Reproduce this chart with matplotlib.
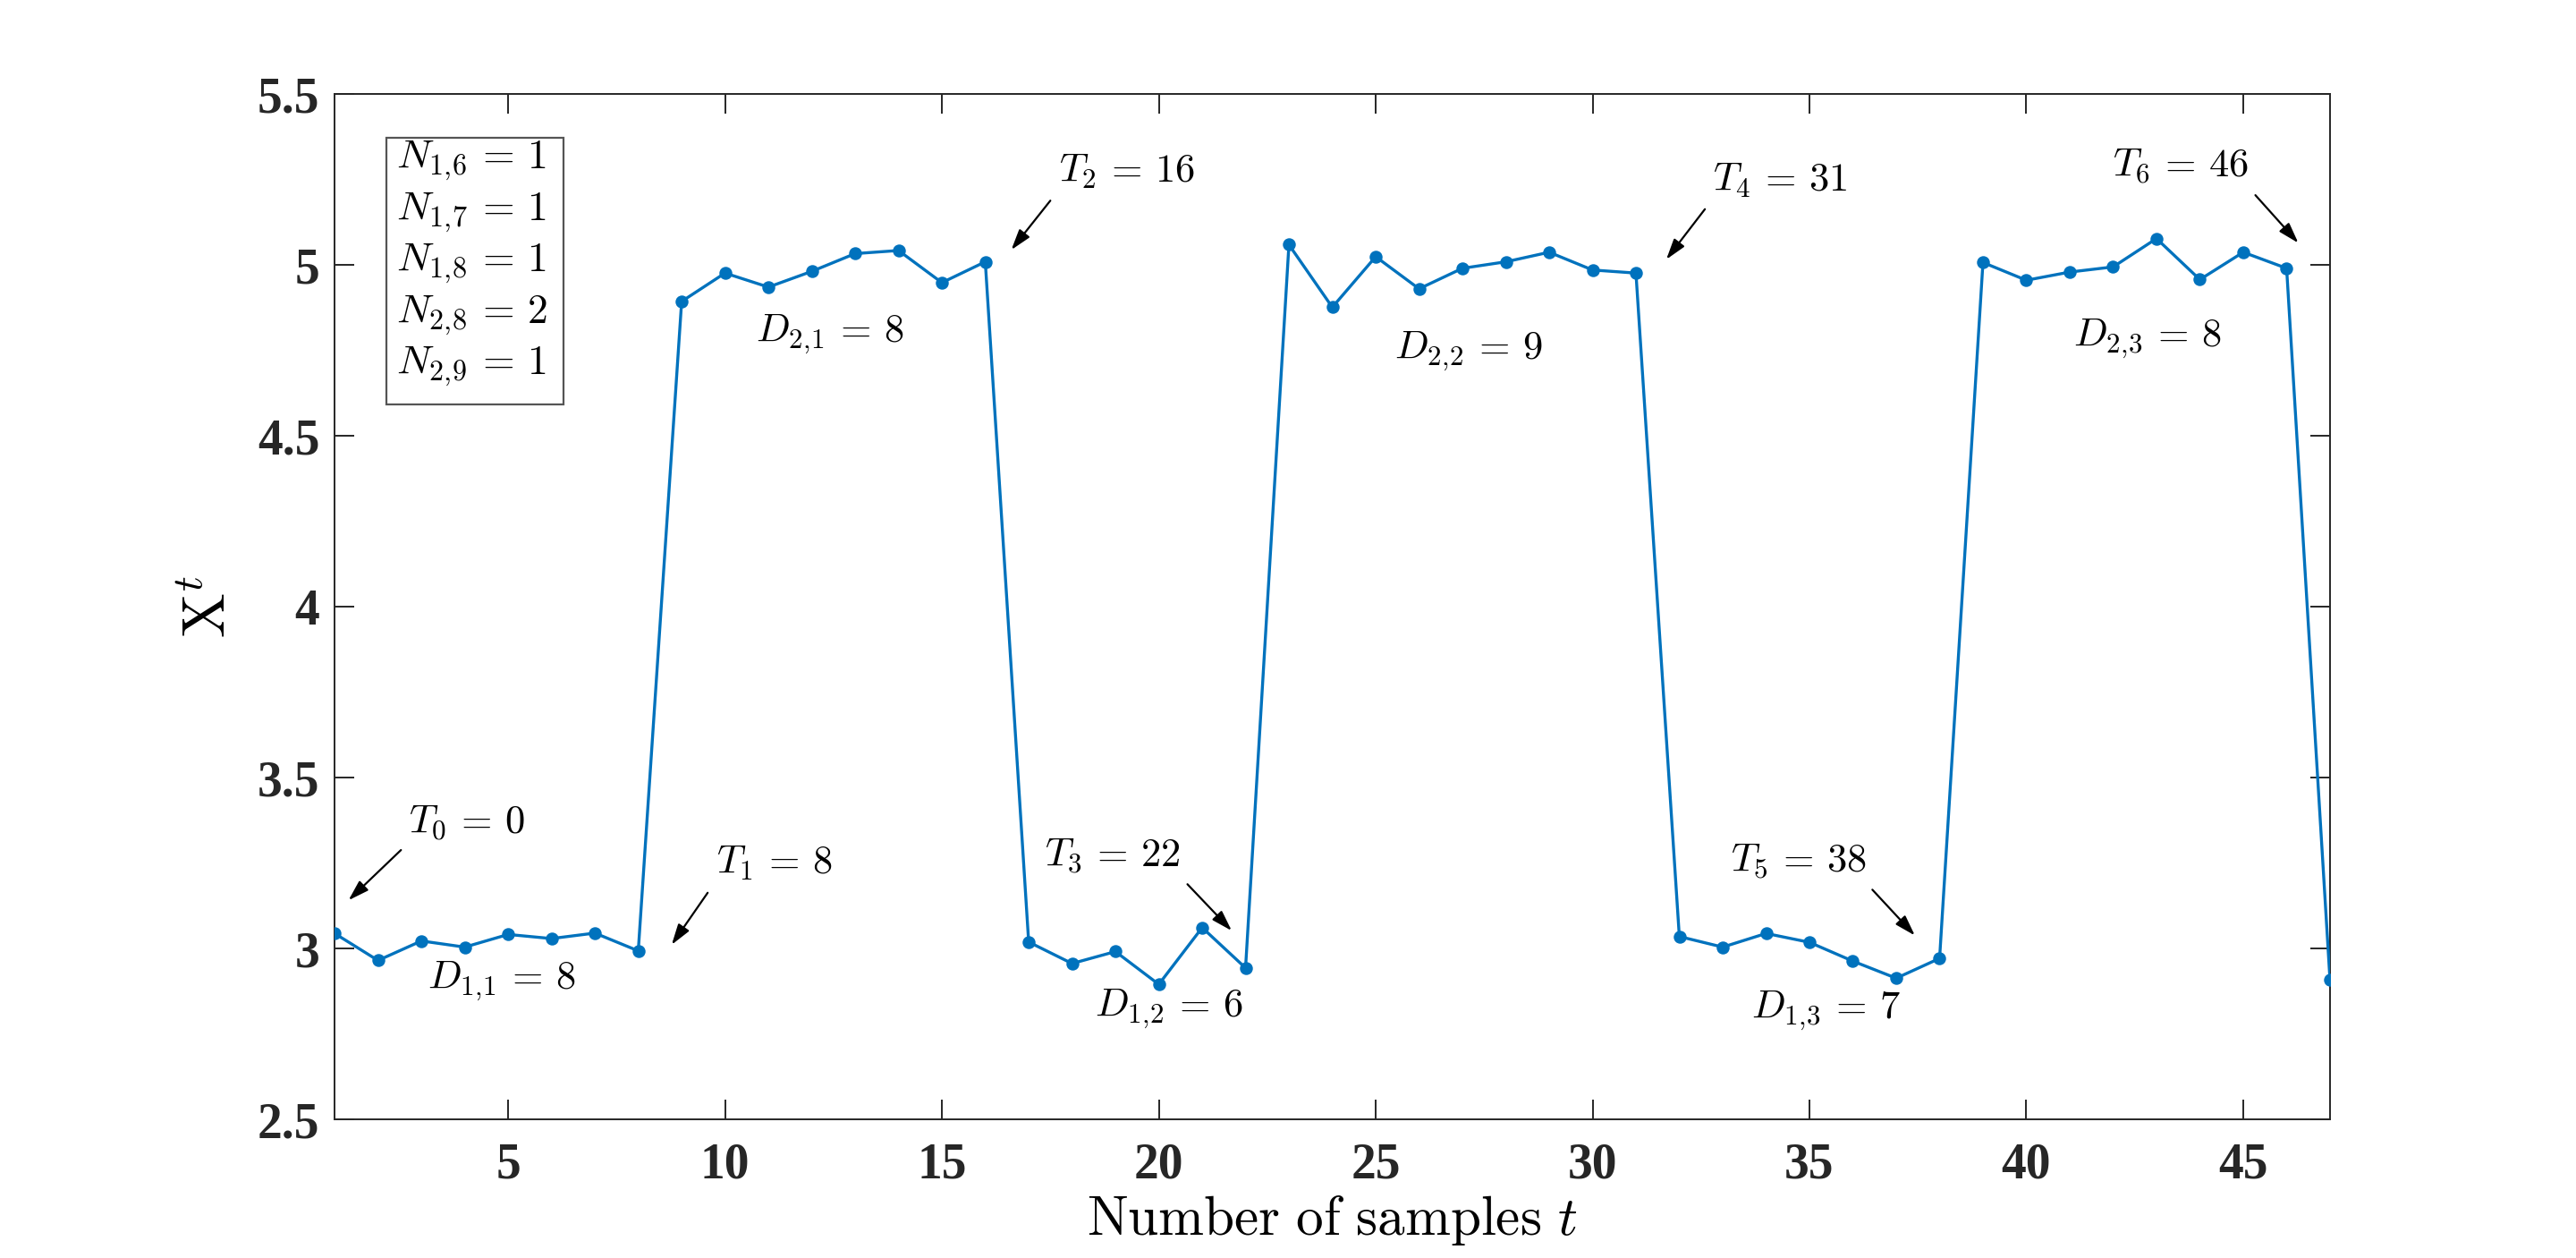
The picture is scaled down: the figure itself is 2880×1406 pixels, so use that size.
import matplotlib
matplotlib.use("Agg")
import matplotlib.pyplot as plt
from matplotlib.patches import Rectangle
import numpy as np

# ---- data ----
t = list(range(1, 48))
X = [3.044, 2.965, 3.022, 3.004, 3.041, 3.029, 3.045, 2.993,
     4.893, 4.976, 4.935, 4.981, 5.033, 5.042, 4.948, 5.009,
     3.019, 2.956, 2.991, 2.895, 3.061, 2.943,
     5.059, 4.876, 5.024, 4.930, 4.990, 5.009, 5.037, 4.985, 4.976,
     3.035, 3.004, 3.044, 3.018, 2.963, 2.913, 2.971,
     5.007, 4.955, 4.979, 4.994, 5.077, 4.957, 5.037, 4.990,
     2.908]

xticks = [5, 10, 15, 20, 25, 30, 35, 40, 45]
yticks = [2.5, 3.0, 3.5, 4.0, 4.5, 5.0, 5.5]
ytick_labels = ["2.5", "3", "3.5", "4", "4.5", "5", "5.5"]

T_labels = [r"$T_0\,=\,0$", r"$T_1\,=\,8$", r"$T_2\,=\,16$", r"$T_3\,=\,22$",
            r"$T_4\,=\,31$", r"$T_5\,=\,38$", r"$T_6\,=\,46$"]
T_text_xy = [(2.71, 3.367), (9.80, 3.249), (17.69, 5.273), (17.37, 3.27),
             (32.77, 5.247), (33.18, 3.254), (42.0, 5.29)]
T_arrow_tail = [(2.53, 3.288), (9.60, 3.163), (17.50, 5.188), (20.66, 3.188),
                (32.59, 5.163), (36.45, 3.172), (45.28, 5.204)]
T_arrow_head = [(1.32, 3.141), (8.77, 3.011), (16.60, 5.044), (21.68, 3.052),
                (31.70, 5.016), (37.43, 3.038), (46.27, 5.064)]

D_labels = [r"$D_{1,\!1}\,=\,8$", r"$D_{1,\!2}\,=\,6$", r"$D_{1,\!3}\,=\,7$",
            r"$D_{2,\!1}\,=\,8$", r"$D_{2,\!2}\,=\,9$", r"$D_{2,\!3}\,=\,8$"]
D_text_xy = [(3.14, 2.903), (18.52, 2.822), (33.65, 2.817),
             (10.72, 4.798), (25.43, 4.746), (41.09, 4.785)]

N_labels = [r"$N_{1,\!6}\,=\,1$", r"$N_{1,\!7}\,=\,1$", r"$N_{1,\!8}\,=\,1$",
            r"$N_{2,\!8}\,=\,2$", r"$N_{2,\!9}\,=\,1$"]

# ---- style ----
plt.rcParams["mathtext.fontset"] = "cm"
plt.rcParams["font.family"] = ["Liberation Serif", "DejaVu Serif"]

fig = plt.figure(figsize=(14.4, 7.03), dpi=200)
ax = fig.add_axes([0.1299, 0.1102, 0.7746, 0.8151])

ax.plot(t, X, color="#0072BD", lw=1.2, marker="o", ms=4.2,
        markerfacecolor="#0072BD", markeredgecolor="#0072BD", zorder=3)

ax.set_xlim(1, 47)
ax.set_ylim(2.5, 5.5)
ax.set_xticks(xticks)
ax.set_xticklabels([str(v) for v in xticks])
ax.set_yticks(yticks)
ax.set_yticklabels(ytick_labels)

for lab in ax.get_xticklabels() + ax.get_yticklabels():
    lab.set_fontweight("bold")
    lab.set_fontsize(20)
    lab.set_color("#262626")

ax.tick_params(axis="both", direction="in", length=8, width=0.7,
               top=True, right=True, color="#262626")
ax.tick_params(axis="x", pad=9)
ax.tick_params(axis="y", pad=6)
for sp in ax.spines.values():
    sp.set_linewidth(0.7)
    sp.set_color("#262626")

ax.set_xlabel(r"$\mathrm{Number\ of\ samples}\ t$", fontsize=22, labelpad=2)
ax.set_ylabel(r"$\mathrm{X}^{t}$", fontsize=24, labelpad=8)

# annotations
for lab, (tx, ty) in zip(T_labels, T_text_xy):
    ax.text(tx, ty, lab, fontsize=16, ha="left", va="center")
for tail, head in zip(T_arrow_tail, T_arrow_head):
    ax.annotate("", xy=head, xytext=tail,
                arrowprops=dict(arrowstyle="-|>,head_length=0.7,head_width=0.22",
                                color="black", lw=0.8, shrinkA=0, shrinkB=0))
for lab, (tx, ty) in zip(D_labels, D_text_xy):
    ax.text(tx, ty, lab, fontsize=16, ha="left", va="center")

# box with N counts
ax.add_patch(Rectangle((0.0259, 0.6975), 0.0888, 0.2595, transform=ax.transAxes,
                       facecolor="white", edgecolor="#555555", lw=0.8, zorder=4))
N_y = [0.9346, 0.8846, 0.8346, 0.7845, 0.7345]
for lab, yy in zip(N_labels, N_y):
    ax.text(0.0309, yy, lab, transform=ax.transAxes, fontsize=16.5,
            ha="left", va="center", zorder=5)

fig.savefig("out.png", dpi=200)
